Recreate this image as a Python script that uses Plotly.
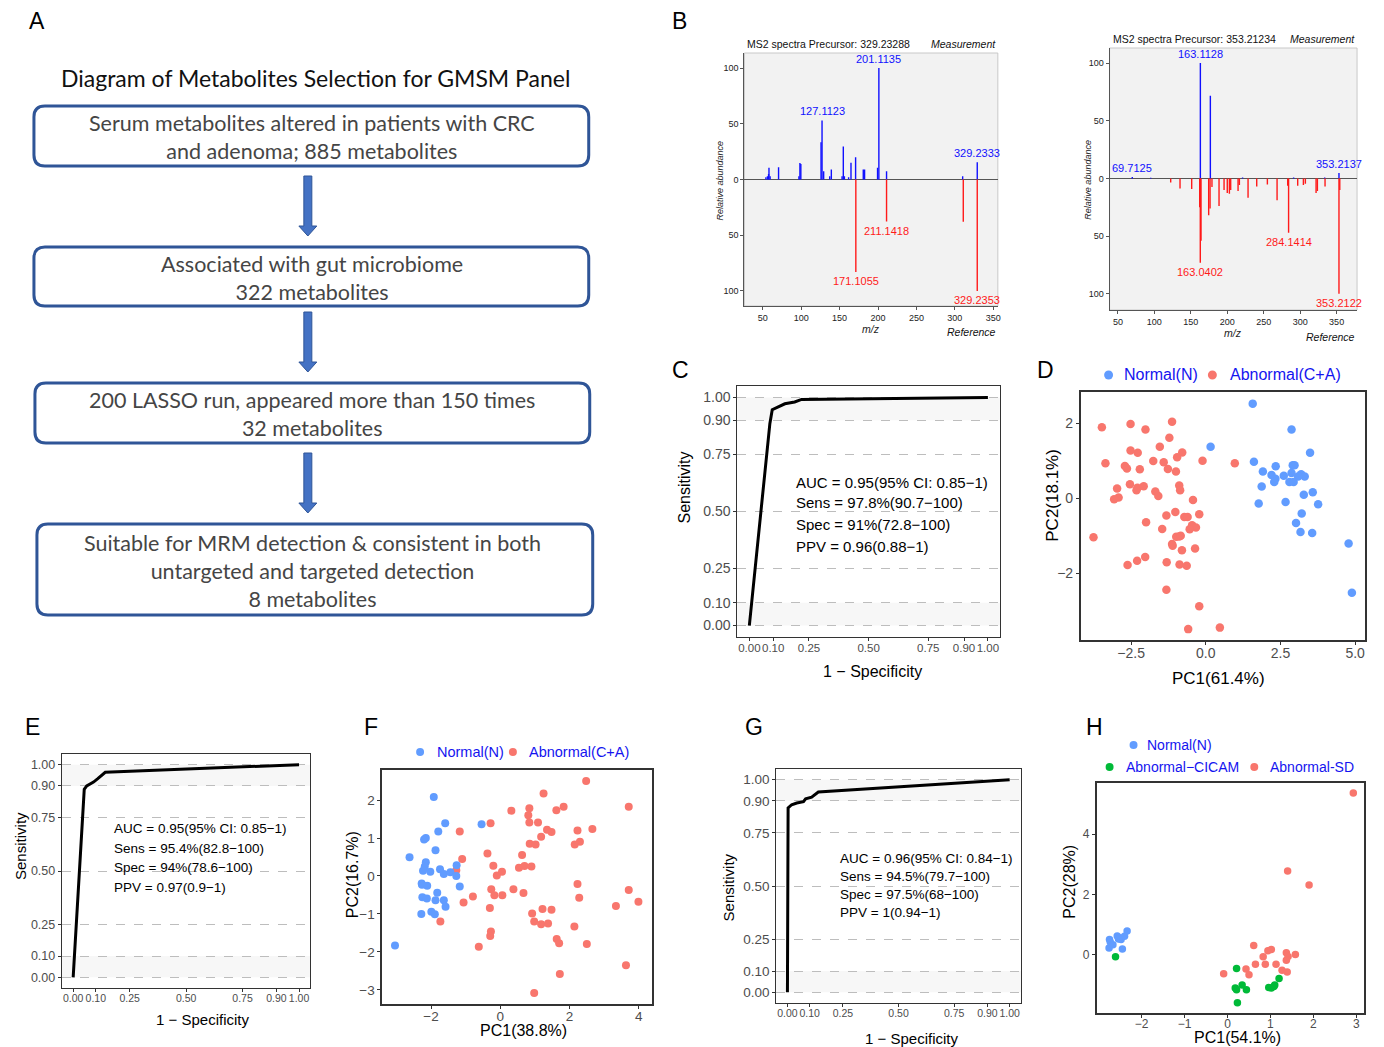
import plotly.graph_objects as go

# The page body adds an 8px margin; the figure is sized so it ends at the window edge
OFF = 8
W, H = 1384 - OFF, 1047 - OFF
def fx(px): return (px - OFF) / W
def fy(py): return 1 - (py - OFF) / H

FONT = "Liberation Sans"
BLUE_T = "#1414F0"
C_N, C_A, C_G = "#619CFF", "#F8766D", "#00BA38"

# ---------------- DATA ----------------
flow_title = "Diagram of Metabolites Selection for GMSM Panel"
flow_boxes = [
    ["Serum metabolites altered in patients with CRC", "and adenoma; 885 metabolites"],
    ["Associated with gut microbiome", "322 metabolites"],
    ["200 LASSO run, appeared more than 150 times", "32 metabolites"],
    ["Suitable for MRM detection & consistent in both", "untargeted and targeted detection", "8 metabolites"],
]

# Panel B (left spectrum)
b1_meas_mz = [54, 56, 57.5, 58, 59.5, 70.5, 97, 98.3, 99.5, 125.8, 127.1, 129.2, 137.1, 139.2, 153.2, 154.8, 156.2, 161.7, 164.8, 170.8, 180.8, 182.5, 199.4, 201.1, 211.1, 310.2, 329.2]
b1_meas_int = [2, 3, 5, 10.5, 3, 11, 3, 14.7, 14, 33.5, 53, 7.5, 3, 9, 3, 29.6, 3, 2, 15, 20, 9, 9, 10.5, 100, 7.5, 3, 15.5]
b1_ref_mz = [171.1, 211.1, 311.0, 329.2]
b1_ref_int = [83, 37.7, 38, 100]
b1_labels_top = [(127.1, 53, "127.1123"), (201.1, 100, "201.1135"), (329.2, 15.5, "329.2333")]
b1_labels_bot = [(171.1, 83, "171.1055"), (211.1, 37.7, "211.1418"), (329.2, 100, "329.2353")]

# Panel B (right spectrum)
b2_meas_mz = [69.7, 95, 163.1, 176.8, 221, 291, 333.6, 353.2]
b2_meas_int = [1.2, 0.5, 100, 71.7, 0.8, 0.8, 0.8, 4.6]
b2_ref_mz = [122.4, 135.2, 151.2, 162.2, 163.0, 164.0, 174.5, 176.4, 179, 188.7, 195.6, 200, 202.9, 204.7, 214.8, 216.6,
             228.5, 240.4, 255, 268.3, 282.9, 284.1, 296.6, 304.4, 307.1, 321.8, 323.6, 334.1, 353.2, 354.3]
b2_ref_int = [3.5, 8.7, 9.2, 25, 73, 54, 32, 26, 7.5, 24, 10, 12.7, 13.3, 10, 11, 5.8,
              16.8, 7, 5.2, 19, 6.4, 47, 6.4, 5.8, 4.6, 12.7, 11, 7, 100, 10]
b2_labels_top = [(69.7, 1.2, "69.7125"), (163.1, 100, "163.1128"), (353.2, 4.6, "353.2137")]
b2_labels_bot = [(163.0, 73, "163.0402"), (284.1, 47, "284.1414"), (353.2, 100, "353.2122")]

# ROC curves
roc_ticks = [0, 0.1, 0.25, 0.5, 0.75, 0.9, 1.0]
roc_ticktext = ["0.00", "0.10", "0.25", "0.50", "0.75", "0.90", "1.00"]
c_fpr = [0, 0.086, 0.096, 0.121, 0.149, 0.19, 0.219, 1.0]
c_tpr = [0, 0.885, 0.946, 0.958, 0.972, 0.98, 0.991, 1.0]
c_text = ["AUC = 0.95(95% CI: 0.85\u22121)", "Sens = 97.8%(90.7\u2212100)", "Spec = 91%(72.8\u2212100)", "PPV = 0.96(0.88\u22121)"]
e_fpr = [0, 0.049, 0.06, 0.09, 0.109, 0.142, 1.0]
e_tpr = [0, 0.884, 0.9, 0.918, 0.934, 0.964, 1.0]
e_text = ["AUC = 0.95(95% CI: 0.85\u22121)", "Sens = 95.4%(82.8\u2212100)", "Spec = 94%(78.6\u2212100)", "PPV = 0.97(0.9\u22121)"]
g_fpr = [0, 0.003, 0.019, 0.042, 0.072, 0.082, 0.109, 0.127, 0.139, 1.0]
g_tpr = [0, 0.867, 0.882, 0.89, 0.896, 0.91, 0.918, 0.934, 0.942, 1.0]
g_text = ["AUC = 0.96(95% CI: 0.84\u22121)", "Sens = 94.5%(79.7\u2212100)", "Spec = 97.5%(68\u2212100)", "PPV = 1(0.94\u22121)"]

# PCA D
d_n_x = [1.57, 2.87, 3.49, 0.16, 1.61, 2.34, 1.91, 2.91, 2.97, 2.20, 2.61, 2.33, 2.29, 2.87, 3.19, 3.31, 3.09, 2.80, 2.94, 1.87, 3.58, 3.28, 1.77, 2.67, 3.76, 3.21, 3.02, 3.17, 3.56, 4.78, 4.89]
d_n_y = [2.52, 1.83, 1.21, 1.37, 0.97, 0.85, 0.71, 0.88, 0.88, 0.62, 0.60, 0.52, 0.43, 0.67, 0.64, 0.58, 0.58, 0.43, 0.43, 0.31, 0.16, 0.09, -0.14, -0.10, -0.16, -0.41, -0.66, -0.90, -0.93, -1.21, -2.52]
d_a_x = [-3.48, -2.52, -1.13, -2.02, -1.22, -1.54, -2.52, -2.28, -0.79, -0.96, -0.11, 0.97, -3.36, -1.76, -1.41, -2.71, -2.64, -2.21, -1.27, -1.00,
         -2.54, -0.89, -2.97, -2.08, -2.29, -2.32, -1.69, -1.59, -0.86, -2.92, -3.07, -0.43, -1.02, -1.32, -0.72, -0.61, -0.22, -2.00, -0.46, -0.33,
         -0.54, -1.46, -0.99, -0.89, -0.84, -3.76, -1.13, -1.11, -0.80, -0.36, -2.62, -2.30, -2.03, -1.31, -0.88, -0.64, -1.32, -0.22, 0.47, -0.59]
d_a_y = [1.89, 1.98, 2.04, 1.83, 1.61, 1.37, 1.27, 1.21, 1.22, 1.09, 1.00, 0.93, 0.93, 0.99, 0.96, 0.86, 0.79, 0.77, 0.78, 0.71,
         0.37, 0.34, 0.26, 0.32, 0.28, 0.21, 0.18, 0.06, 0.21, 0.02, -0.03, -0.05, -0.37, -0.46, -0.50, -0.50, -0.43, -0.64, -0.72, -0.78,
         -0.83, -0.82, -1.03, -1.02, -1.00, -1.04, -1.22, -1.27, -1.39, -1.34, -1.78, -1.67, -1.57, -1.71, -1.77, -1.80, -2.44, -2.88, -3.45, -3.49]

# PCA F
f_n_x = [-1.92, -1.59, -0.54, -1.79, -2.20, -2.15, -1.87, -2.62, -2.15, -2.18, -2.23, -2.02, -1.74, -1.63, -1.44, -1.26, -1.27, -2.27, -2.26, -2.11, -1.17, -2.25, -2.12, -1.82, -1.87, -1.63, -1.58, -2.28, -1.99, -1.89, -3.04]
f_n_y = [2.08, 1.39, 1.36, 1.17, 0.96, 1.00, 0.68, 0.49, 0.36, 0.25, 0.14, 0.11, 0.18, 0.05, 0.10, 0.28, 0.00, -0.20, -0.23, -0.26, -0.28, -0.56, -0.59, -0.44, -0.64, -0.64, -0.81, -1.00, -0.94, -1.01, -1.83]
f_a_x = [2.48, 1.25, 1.83, 0.32, 0.84, 1.62, 0.81, -0.28, 0.84, 1.09, 1.35, 1.48, 2.23, 2.66, 1.18, 2.30, 2.15, 0.85, 1.02, 3.71,
         -1.17, -0.37, 0.63, -1.10, -0.20, 0.54, 0.70, 0.90, -0.10, 0.05, -1.27, 2.23, -0.26, 0.38, -0.17, 0.06, 0.67, -0.79, 2.28, 3.71,
         3.99, -1.06, 3.34, -0.30, 1.22, 1.48, 0.92, 0.98, 1.18, 1.38, 2.14, -1.73, -0.27, -0.29, 1.63, 1.70, 2.50, -0.62, 1.72, 3.63, 0.98]
f_a_y = [2.50, 2.17, 1.82, 1.72, 1.78, 1.73, 1.60, 1.39, 1.41, 1.41, 1.22, 1.16, 1.20, 1.24, 1.03, 0.90, 0.83, 0.85, 0.83, 1.82,
         1.17, 0.59, 0.55, 0.45, 0.27, 0.22, 0.26, 0.25, 0.01, 0.11, 0.15, -0.21, -0.35, -0.35, -0.51, -0.51, -0.45, -0.54, -0.57, -0.37,
         -0.68, -0.70, -0.79, -0.84, -0.87, -0.89, -0.99, -1.20, -1.27, -1.25, -1.33, -1.20, -1.46, -1.58, -1.66, -1.77, -1.79, -1.86, -2.58, -2.35, -3.08]

# PCA H
h_n_x = [-2.75, -2.73, -2.76, -2.67, -2.57, -2.52, -2.48, -2.40, -2.34, -2.45, -2.54]
h_n_y = [0.50, 0.41, 0.22, 0.33, 0.62, 0.56, 0.50, 0.61, 0.78, 0.19, 0.52]
h_c_x = [-2.61, 0.21, 0.18, 0.21, 0.34, 0.44, 0.23, 0.96, 1.02, 1.08, 1.10, 1.20]
h_c_y = [-0.07, -0.46, -1.11, -1.17, -1.01, -1.17, -1.60, -1.09, -1.11, -1.06, -1.01, -0.79]
h_s_x = [2.93, 1.40, 1.90, 0.61, 0.94, 1.02, 1.37, 1.41, 1.58, 0.83, 1.37, 0.65, 0.88, 1.13, 0.43, 1.27, 1.39, 0.50, -0.09]
h_s_y = [5.37, 2.78, 2.31, 0.30, 0.13, 0.17, 0.06, -0.06, 0.00, -0.07, -0.19, -0.32, -0.32, -0.32, -0.48, -0.52, -0.58, -0.67, -0.64]

# ---------------- FIGURE ----------------
fig = go.Figure()
shapes = []
anns = []

def ann(text, px, py, size, color="black", xanchor="center", yanchor="middle", angle=0, family=FONT, **kw):
    anns.append(dict(text=text, x=fx(px), y=fy(py), xref="paper", yref="paper", showarrow=False,
                     xanchor=xanchor, yanchor=yanchor, textangle=angle,
                     font=dict(size=size, color=color, family=family), **kw))

# panel letters
for lab, px, py in [("A", 37, 21), ("B", 681, 21), ("C", 682, 370), ("D", 1048, 370),
                    ("E", 33, 727), ("F", 372, 727), ("G", 756, 727), ("H", 1097, 727)]:
    ann(lab, px, py, 23)

# ---------- Panel A : flowchart ----------
ann(flow_title, 316, 78, 23, color="#111111", family="Lato")

def rrect(x0, y0, x1, y1, r):
    p = (f"M {fx(x0+r)},{fy(y0)} L {fx(x1-r)},{fy(y0)} Q {fx(x1)},{fy(y0)} {fx(x1)},{fy(y0+r)} "
         f"L {fx(x1)},{fy(y1-r)} Q {fx(x1)},{fy(y1)} {fx(x1-r)},{fy(y1)} "
         f"L {fx(x0+r)},{fy(y1)} Q {fx(x0)},{fy(y1)} {fx(x0)},{fy(y1-r)} "
         f"L {fx(x0)},{fy(y0+r)} Q {fx(x0)},{fy(y0)} {fx(x0+r)},{fy(y0)} Z")
    return dict(type="path", path=p, xref="paper", yref="paper", line=dict(color="#2F5597", width=3), fillcolor="rgba(0,0,0,0)")

box_px = [(34, 106, 590, 166), (34, 247, 590, 306), (35, 383, 591, 443), (37, 524, 594, 615)]
for (x0, y0, x1, y1), lines in zip(box_px, flow_boxes):
    shapes.append(rrect(x0, y0, x1, y1, 11))
    ann("<br>".join(lines), 313, (y0 + y1) / 2 + 1, 21.5, color="#454545", family="Lato")

def arrow(xc, top, tip):
    pts = [(xc - 4, top), (xc + 4, top), (xc + 4, tip - 10), (xc + 9, tip - 10), (xc, tip),
           (xc - 9, tip - 10), (xc - 4, tip - 10)]
    p = "M " + " L ".join(f"{fx(a)},{fy(b)}" for a, b in pts) + " Z"
    return dict(type="path", path=p, xref="paper", yref="paper", line=dict(color="#2F5597", width=1), fillcolor="#4472C4")

for top, tip in [(176, 236), (312, 372), (453, 513)]:
    shapes.append(arrow(308.5, top, tip))

# ---------- Panel B : spectra ----------
def stems(mz, inten, sign):
    xs, ys = [], []
    for m, h in zip(mz, inten):
        xs += [m, m, None]
        ys += [0, sign * h, None]
    return xs, ys

for idx, (mm, mi, rm, ri) in [(1, (b1_meas_mz, b1_meas_int, b1_ref_mz, b1_ref_int)),
                               (2, (b2_meas_mz, b2_meas_int, b2_ref_mz, b2_ref_int))]:
    xa = "x" if idx == 1 else "x2"
    ya = "y" if idx == 1 else "y2"
    sx, sy = stems(mm, mi, 1)
    fig.add_trace(go.Scatter(x=sx, y=sy, mode="lines", line=dict(color="#1010FF", width=1.4),
                             xaxis=xa, yaxis=ya, showlegend=False, hoverinfo="skip"))
    sx, sy = stems(rm, ri, -1)
    fig.add_trace(go.Scatter(x=sx, y=sy, mode="lines", line=dict(color="#FF1A1A", width=1.4),
                             xaxis=xa, yaxis=ya, showlegend=False, hoverinfo="skip"))

def peak_labels(labels, xa, ya, sign, color):
    for m, h, t in labels:
        anns.append(dict(text=t, x=m, y=sign * h, xref=xa, yref=ya, showarrow=False,
                         xanchor="center", yanchor="bottom" if sign > 0 else "top",
                         yshift=1 if sign > 0 else -1,
                         font=dict(size=11, color=color, family=FONT)))

peak_labels(b1_labels_top, "x", "y", 1, "#1010FF")
peak_labels(b1_labels_bot, "x", "y", -1, "#FF1A1A")
peak_labels(b2_labels_top, "x2", "y2", 1, "#1010FF")
peak_labels(b2_labels_bot, "x2", "y2", -1, "#FF1A1A")

for xr, yr in [("x", "y"), ("x2", "y2")]:
    shapes.append(dict(type="rect", xref=f"{xr} domain", yref=f"{yr} domain", x0=0, x1=1, y0=0, y1=1,
                       fillcolor="#F2F2F2", line=dict(color="#C8C8C8", width=1), layer="below"))

spec_x = dict(tickvals=[50, 100, 150, 200, 250, 300, 350], ticks="outside", ticklen=3, tickcolor="#555",
              showline=True, linecolor="#555", linewidth=1, showgrid=False, zeroline=False, tickangle=0,
              tickfont=dict(size=9, color="#222", family=FONT))
spec_y = dict(tickvals=[-100, -50, 0, 50, 100], ticktext=["100", "50", "0", "50", "100"], ticks="outside",
              ticklen=3, tickcolor="#555", showline=True, linecolor="#555", linewidth=1, showgrid=False,
              zeroline=True, zerolinecolor="#555", zerolinewidth=1,
              tickfont=dict(size=9, color="#222", family=FONT))

# texts for spectra
ann("MS2 spectra Precursor: 329.23288", 747, 44, 10.5, color="#111", xanchor="left")
ann("<i>Measurement</i>", 1000, 44, 10.5, color="#111", xanchor="right")
ann("<i>m/z</i>", 873, 329, 10.5, color="#222")
ann("<i>Reference</i>", 1000, 332, 10.5, color="#111", xanchor="right")
ann("<i>Relative abundance</i>", 722, 180, 9, color="#222", angle=-90)
ann("MS2 spectra Precursor: 353.21234", 1113, 39, 10.5, color="#111", xanchor="left")
ann("<i>Measurement</i>", 1360, 39, 10.5, color="#111", xanchor="right")
ann("<i>m/z</i>", 1236, 333, 10.5, color="#222")
ann("<i>Reference</i>", 1360, 337, 10.5, color="#111", xanchor="right")
ann("<i>Relative abundance</i>", 1090, 180, 9, color="#222", angle=-90)

# ---------- ROC panels ----------
def roc_axes(xsize, ysize):
    xa = dict(range=[-0.05, 1.05], tickvals=roc_ticks, ticktext=roc_ticktext, ticks="outside", ticklen=3,
              tickcolor="#333", showline=True, mirror=True, linecolor="#333", linewidth=1.3, tickangle=0,
              ticklabelstandoff=-3,
              showgrid=False, zeroline=False, tickfont=dict(size=xsize, color="#4D4D4D", family=FONT))
    ya = dict(range=[-0.05, 1.05], tickvals=roc_ticks, ticktext=roc_ticktext, ticks="outside", ticklen=3,
              tickcolor="#333", showline=True, mirror=True, linecolor="#333", linewidth=1.3,
              showgrid=True, gridcolor="#BDBDBD", griddash="dash", gridwidth=1.3, zeroline=False,
              tickfont=dict(size=ysize, color="#4D4D4D", family=FONT))
    return xa, ya

for n, fpr, tpr in [(3, c_fpr, c_tpr), (5, e_fpr, e_tpr), (7, g_fpr, g_tpr)]:
    fig.add_trace(go.Scatter(x=fpr, y=tpr, mode="lines", line=dict(color="black", width=3),
                             xaxis=f"x{n}", yaxis=f"y{n}", showlegend=False, hoverinfo="skip"))
    for y0, y1 in [(0.9, 1.0), (0.0, 0.1)]:
        shapes.append(dict(type="rect", xref=f"x{n} domain", yref=f"y{n}", x0=0, x1=1, y0=y0, y1=y1,
                           fillcolor="#F7F7F7", line=dict(width=0), layer="below"))

for lines, px, pys, size in [(c_text, 796, [482, 503, 524, 546], 15),
                             (e_text, 112, [828, 848, 867, 887], 13.5),
                             (g_text, 840, [858, 876, 894, 912], 13.5)]:
    for t, py in zip(lines, pys):
        ann(t, px, py, size, xanchor="left")

ann("Sensitivity", 685, 488, 16, angle=-90)
ann("1 \u2212 Specificity", 874, 671, 16)
ann("Sensitivity", 20, 846, 15, angle=-90)
ann("1 \u2212 Specificity", 203, 1019, 15)
ann("Sensitivity", 730, 887, 15, angle=-90)
ann("1 \u2212 Specificity", 913, 1038, 15)

# ---------- PCA panels ----------
def pca_axes(xr, yr, xt, yt, size):
    xa = dict(range=xr, tickvals=xt, ticktext=[f"{v}".replace("-", "\u2212") for v in xt], ticks="outside",
              ticklen=3, tickcolor="#333", showline=True, mirror=True, linecolor="#333", linewidth=1.5, tickangle=0,
              ticklabelstandoff=-4,
              showgrid=False, zeroline=False, tickfont=dict(size=size, color="#4D4D4D", family=FONT))
    ya = dict(range=yr, tickvals=yt, ticktext=[f"{v}".replace("-", "\u2212") for v in yt], ticks="outside",
              ticklen=3, tickcolor="#333", showline=True, mirror=True, linecolor="#333", linewidth=1.5,
              showgrid=False, zeroline=False, tickfont=dict(size=size, color="#4D4D4D", family=FONT))
    return xa, ya

def pts(x, y, color, n, size):
    fig.add_trace(go.Scatter(x=x, y=y, mode="markers", marker=dict(color=color, size=size, line=dict(width=0)),
                             xaxis=f"x{n}", yaxis=f"y{n}", showlegend=False, hoverinfo="skip"))

pts(d_a_x, d_a_y, C_A, 4, 8.5)
pts(d_n_x, d_n_y, C_N, 4, 8.5)
pts(f_a_x, f_a_y, C_A, 6, 8)
pts(f_n_x, f_n_y, C_N, 6, 8)
pts(h_s_x, h_s_y, C_A, 8, 7.5)
pts(h_c_x, h_c_y, C_G, 8, 7.5)
pts(h_n_x, h_n_y, C_N, 8, 7.5)

def legend_dot(cx, cy, d, color):
    shapes.append(dict(type="circle", xref="paper", yref="paper", x0=fx(cx - d / 2), x1=fx(cx + d / 2),
                       y0=fy(cy + d / 2), y1=fy(cy - d / 2), fillcolor=color, line=dict(width=0)))

legend_dot(1111, 375, 9, C_N); ann("Normal(N)", 1124, 375, 16, BLUE_T, xanchor="left")
legend_dot(1215, 375, 9, C_A); ann("Abnormal(C+A)", 1231, 375, 16, BLUE_T, xanchor="left")
legend_dot(421, 752, 8, C_N); ann("Normal(N)", 436, 752, 14.5, BLUE_T, xanchor="left")
legend_dot(514, 752, 8, C_A); ann("Abnormal(C+A)", 528, 752, 14.5, BLUE_T, xanchor="left")
legend_dot(1136, 745, 8, C_N); ann("Normal(N)", 1147, 745, 14, BLUE_T, xanchor="left")
legend_dot(1112, 767, 8, C_G); ann("Abnormal\u2212CICAM", 1126, 767, 14, BLUE_T, xanchor="left")
legend_dot(1257, 767, 8, C_A); ann("Abnormal-SD", 1271, 767, 14, BLUE_T, xanchor="left")

ann("PC1(61.4%)", 1221, 678, 17)
ann("PC2(18.1%)", 1055, 495, 17, angle=-90)
ann("PC1(38.8%)", 525, 1030, 16)
ann("PC2(16.7%)", 353, 875, 16, angle=-90)
ann("PC1(54.1%)", 1240, 1037, 16)
ann("PC2(28%)", 1071, 882, 16, angle=-90)

# ---------- axes layout ----------
def dom(x0, x1, y0, y1):
    return [fx(x0), fx(x1)], [fy(y1), fy(y0)]

layout_axes = {}
panels = {
    1: dom(746, 1000, 53, 306),
    2: dom(1112, 1360, 48, 310),
    3: dom(739, 1002, 386, 637),
    4: dom(1083, 1368, 392, 640),
    5: dom(62, 311, 754, 988),
    6: dom(383, 653, 770, 1004),
    7: dom(778, 1023, 769, 1003),
    8: dom(1099, 1367, 783, 1013),
}
ax_specs = {
    1: (dict(spec_x, range=[26, 356]), dict(spec_y, range=[-113.5, 113.5])),
    2: (dict(spec_x, range=[38.6, 378]), dict(spec_y, range=[-114, 113])),
    3: roc_axes(11.5, 14),
    4: pca_axes([-4.19, 5.33], [-3.78, 2.83], [-2.5, 0.0, 2.5, 5.0], [-2, 0, 2], 14),
    5: roc_axes(10.5, 12.5),
    6: pca_axes([-3.41, 4.37], [-3.37, 2.79], [-2, 0, 2, 4], [-3, -2, -1, 0, 1, 2], 13.5),
    7: roc_axes(10.5, 13.5),
    8: pca_axes([-3.05, 3.18], [-1.94, 5.7], [-2, -1, 0, 1, 2, 3], [0, 2, 4], 12),
}
for n, (xd, yd) in panels.items():
    xa, ya = ax_specs[n]
    sfx = "" if n == 1 else str(n)
    layout_axes[f"xaxis{sfx}"] = dict(xa, domain=xd, anchor=f"y{sfx}")
    layout_axes[f"yaxis{sfx}"] = dict(ya, domain=yd, anchor=f"x{sfx}")

layout_axes["xaxis4"]["ticktext"] = ["\u22122.5", "0.0", "2.5", "5.0"]

fig.update_layout(width=W, height=H, margin=dict(l=0, r=0, t=0, b=0),
                  paper_bgcolor="white", plot_bgcolor="white",
                  font=dict(family=FONT), shapes=shapes, annotations=anns, showlegend=False,
                  **layout_axes)

fig.write_html("out.html")
